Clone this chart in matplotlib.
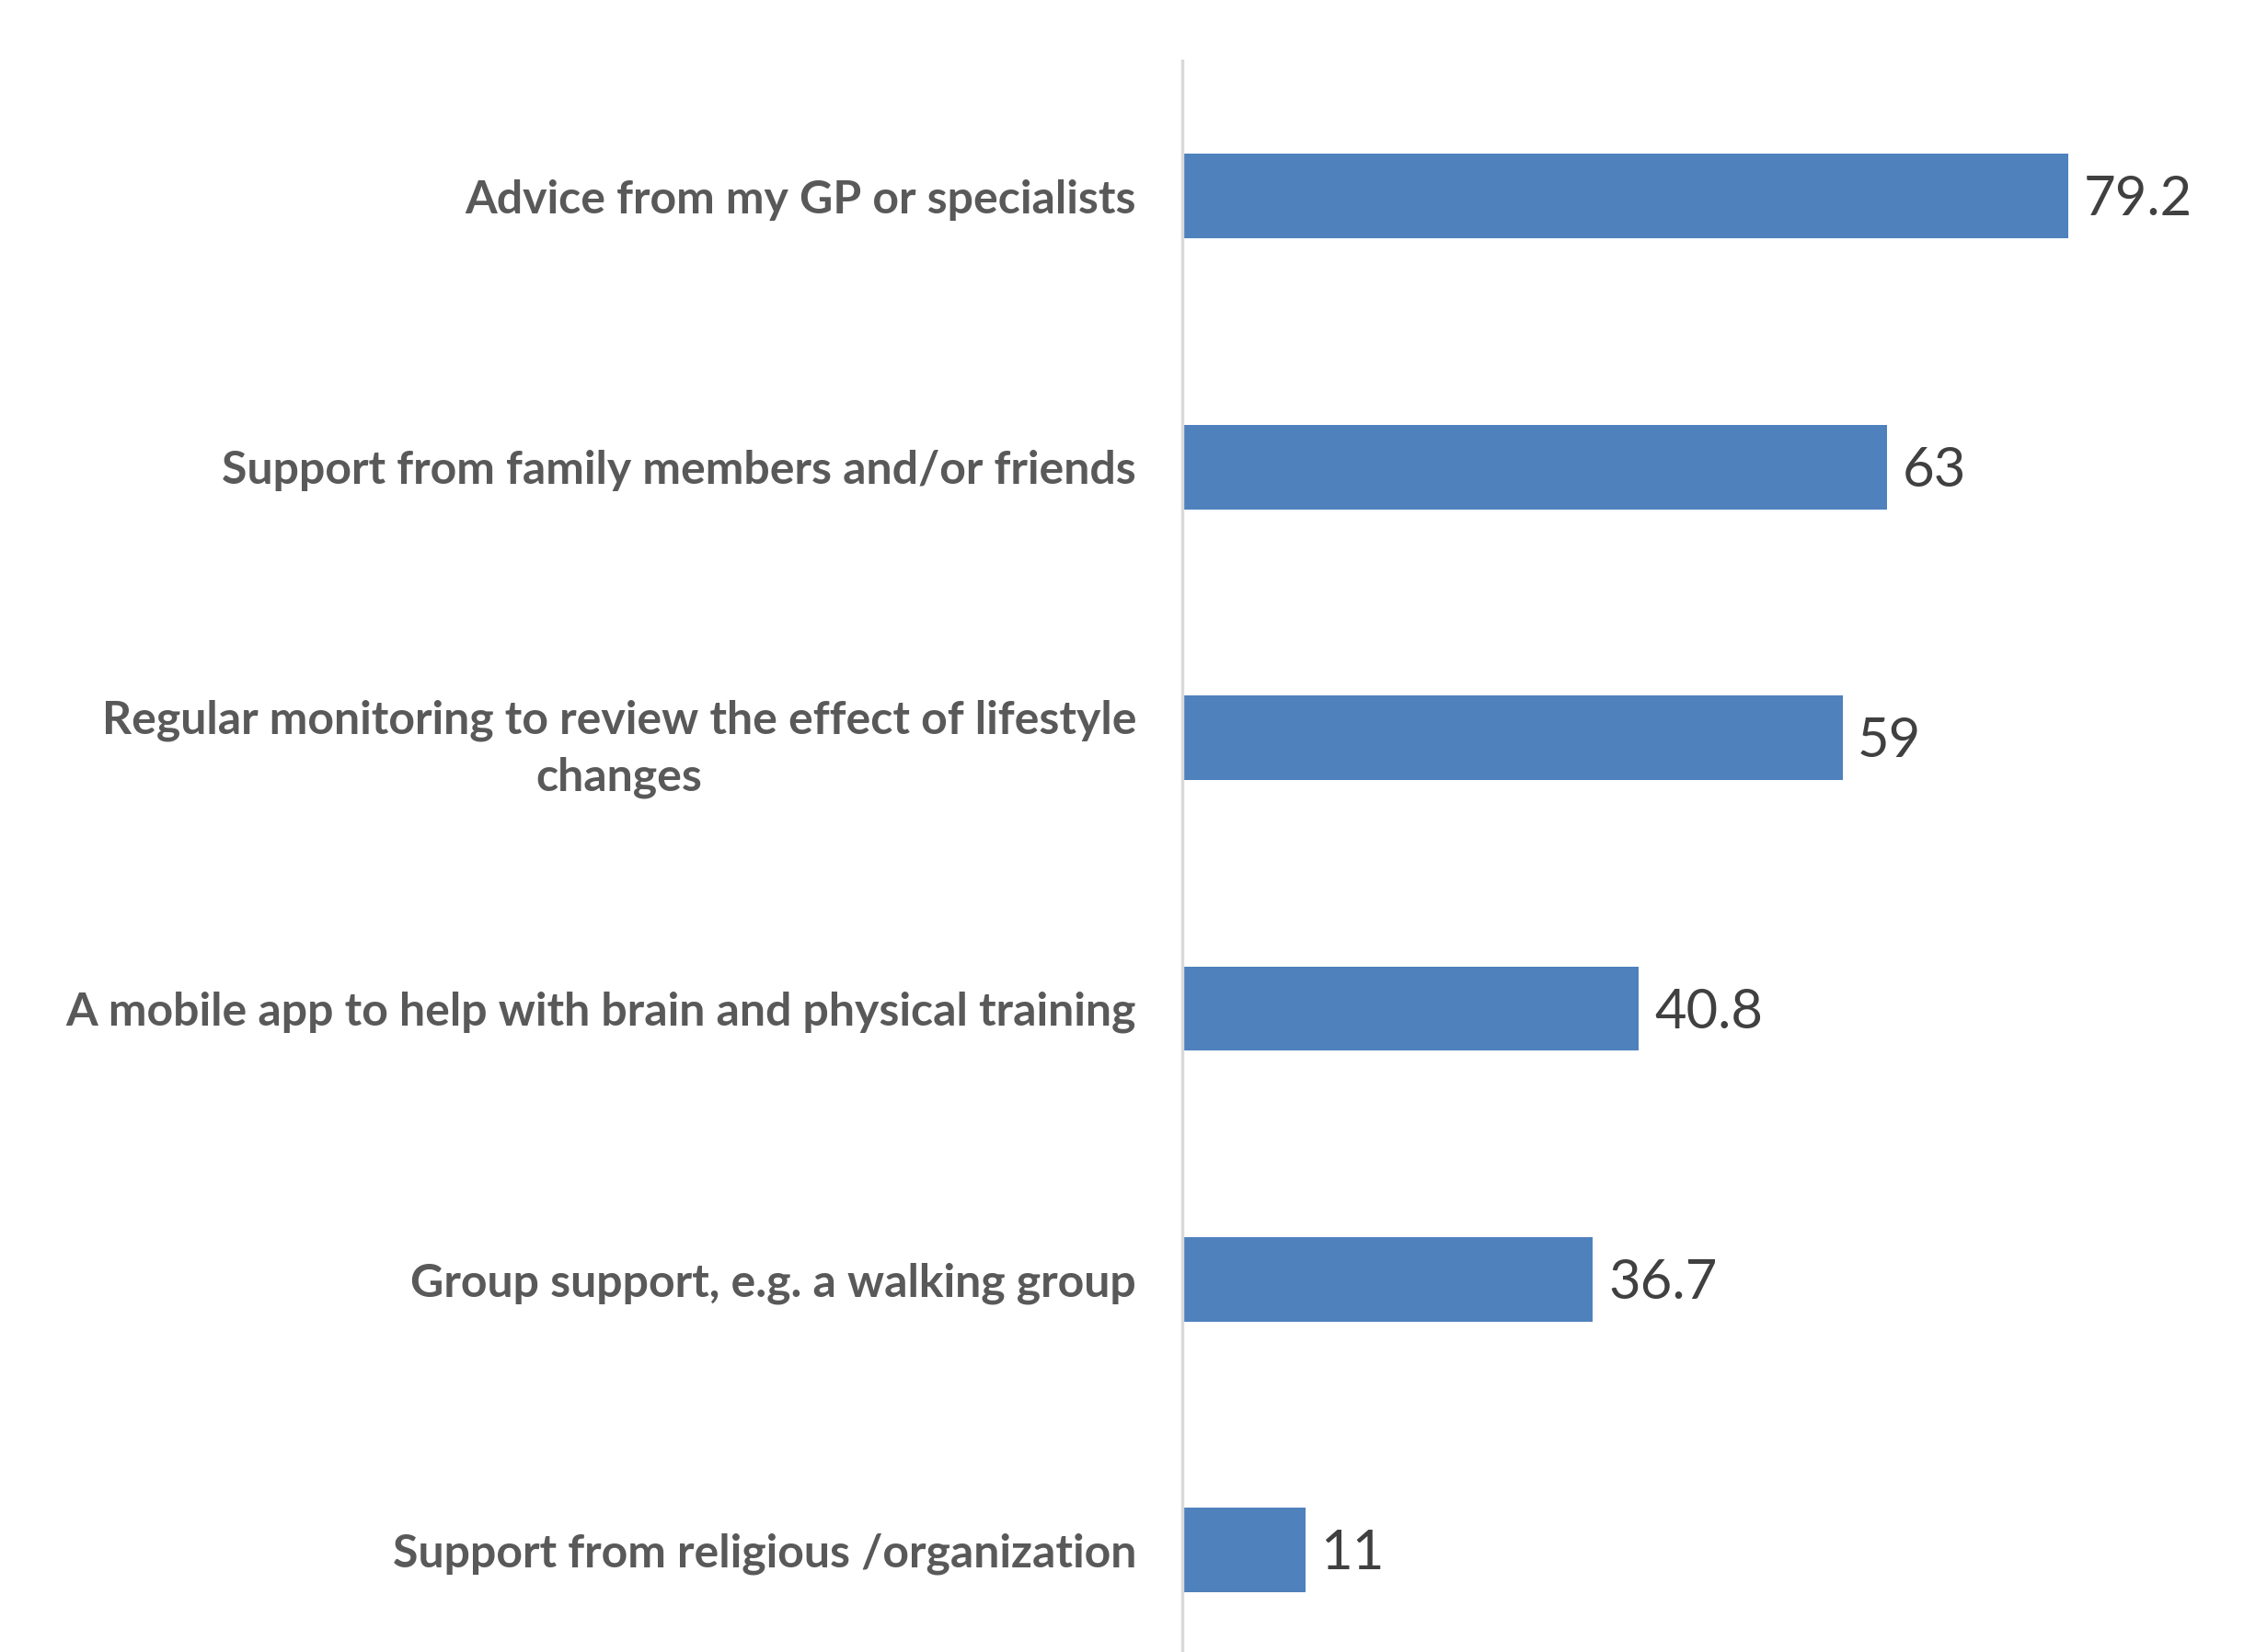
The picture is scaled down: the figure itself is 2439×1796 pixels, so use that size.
import matplotlib.pyplot as plt

# Fontes e cores
plt.rcParams['font.family'] = ['Lato', 'DejaVu Sans']

categorias = [
    "Advice from my GP or specialists",
    "Support from family members and/or friends",
    "Regular monitoring to review the effect of lifestyle\nchanges",
    "A mobile app to help with brain and physical training",
    "Group support, e.g. a walking group",
    "Support from religious /organization",
]
valores = [79.2, 63, 59, 40.8, 36.7, 11]
rotulos = ["79.2", "63", "59", "40.8", "36.7", "11"]

fig = plt.figure(figsize=(24.39, 17.96), dpi=100)
ax = fig.add_axes([0.5269, -0.0203, 0.4487, 0.9835])

pos = list(range(len(categorias)))
barras = ax.barh(pos, valores, height=0.312, color='#4F81BD')
ax.set_ylim(len(categorias) - 0.5, -0.5)
ax.set_xlim(0, 90)

ax.set_yticks(pos)
ax.set_yticklabels(categorias, fontsize=36, fontweight='bold', color='#595959',
                   multialignment='center', linespacing=1.45)
ax.tick_params(axis='y', length=0, pad=36)
ax.set_xticks([])

for s in ['top', 'right', 'bottom']:
    ax.spines[s].set_visible(False)
ax.spines['left'].set_color('#D9D9D9')
ax.spines['left'].set_linewidth(2.5)

# rótulos de valor ao lado de cada barra
for b, txt in zip(barras, rotulos):
    ax.annotate(txt, (b.get_width(), b.get_y() + b.get_height() / 2),
                xytext=(12, -3), textcoords='offset points',
                va='center', ha='left', fontsize=43, color='#404040')

fig.savefig('out.png', dpi=100)
